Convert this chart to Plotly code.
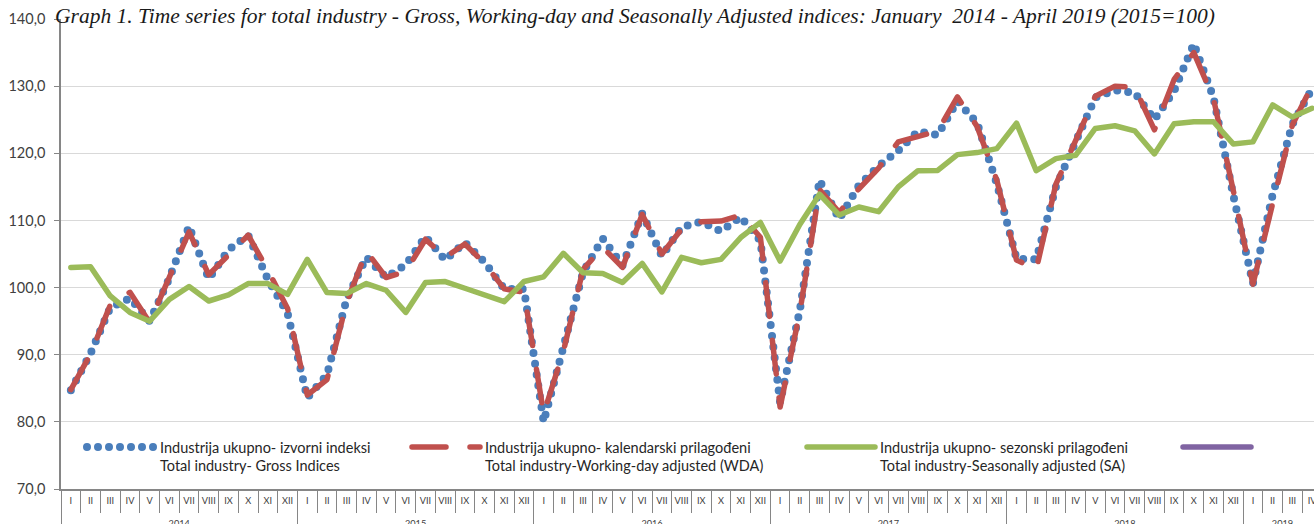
import plotly.graph_objects as go

# ---------------- data ----------------
month_labels = ["I", "II", "III", "IV", "V", "VI", "VII", "VIII", "IX", "X", "XI", "XII"]
years = ["2014", "2015", "2016", "2017", "2018", "2019"]
months_per_year = [12, 12, 12, 12, 12, 4]

gross = [
    84.7, 90.2, 97.0, 98.4, 95.0, 101.4, 109.1, 101.3, 105.6, 107.8, 101.2, 96.2,
    83.6, 87.0, 98.3, 104.5, 101.5, 103.4, 107.6, 104.1, 106.7, 103.8, 99.8, 99.8,
    80.0, 90.8, 102.3, 107.3, 103.3, 111.0, 104.7, 109.0, 109.8, 108.4, 110.5, 107.0,
    82.9, 96.6, 116.0, 110.2, 115.2, 118.1, 120.4, 123.3, 122.7, 127.8, 124.5, 115.5,
    104.3, 104.2, 115.0, 121.7, 128.3, 129.4, 129.0, 125.0, 129.3, 136.3, 128.3, 113.8,
    100.6, 113.8, 124.3, 129.6,
]
wda = [
    84.8, 90.1, 97.4, 99.3, 94.8, 101.5, 108.3, 101.9, 104.8, 107.8, 102.6, 96.9,
    84.0, 86.3, 97.8, 105.4, 101.5, 102.4, 107.2, 104.5, 106.5, 103.6, 99.8, 99.3,
    81.2, 90.5, 102.7, 106.0, 103.0, 110.9, 105.0, 108.7, 109.8, 109.9, 110.8, 107.5,
    82.2, 96.3, 114.6, 111.2, 114.7, 117.8, 121.7, 122.6, 123.3, 128.4, 124.0, 116.0,
    104.1, 102.7, 115.4, 121.9, 128.5, 130.0, 129.8, 123.5, 131.0, 135.0, 128.1, 114.5,
    100.5, 112.5, 124.2, 130.1,
]
sa = [
    103.0, 103.1, 98.75, 96.3, 95.0, 98.25, 100.15, 98.0, 98.9, 100.6, 100.6, 99.0,
    104.2, 99.25, 99.1, 100.6, 99.6, 96.3, 100.75, 100.9, 99.9, 98.9, 97.9, 100.9,
    101.6, 105.1, 102.2, 102.1, 100.75, 103.6, 99.35, 104.5, 103.7, 104.2, 107.45, 109.7,
    103.95, 109.4, 113.9, 110.8, 112.0, 111.3, 115.0, 117.4, 117.45, 119.8, 120.1, 120.7,
    124.5, 117.4, 119.2, 119.7, 123.7, 124.1, 123.35, 119.9, 124.4, 124.7, 124.7, 121.4,
    121.7, 127.2, 125.4, 126.7,
]

names = [
    "Industrija ukupno- izvorni indeksi<br>Total industry- Gross Indices",
    "Industrija ukupno- kalendarski prilagođeni<br>Total industry-Working-day adjusted (WDA)",
    "Industrija ukupno- sezonski prilagođeni<br>Total industry-Seasonally adjusted (SA)",
    "",
]
title_text = ("Graph 1. Time series for total industry - Gross, Working-day and Seasonally "
              "Adjusted indices: January  2014 - April 2019 (2015=100)")

# ---------------- build categories ----------------
# (year labels get a leading line break so they sit lower, as in the original)
x_year, x_month = [], []
for yr, n in zip(years, months_per_year):
    for m in month_labels[:n]:
        x_year.append("<br>" + yr)
        x_month.append(m)
x = [x_year, x_month]

BLUE, RED, GREEN, PURPLE = "#4A7EBB", "#C0504D", "#9BBB59", "#8064A2"
AXIS = "#868686"
TXT = "#404040"
FONT = "Lato"

fig = go.Figure()
fig.add_trace(go.Scatter(x=x, y=gross, mode="lines", name=names[0], legend="legend",
                         line=dict(color=BLUE, width=8, dash="0px,11px")))
fig.add_trace(go.Scatter(x=x, y=wda, mode="lines", name=names[1], legend="legend2",
                         line=dict(color=RED, width=5.5, dash="34px,24px")))
fig.add_trace(go.Scatter(x=x, y=sa, mode="lines", name=names[2], legend="legend3",
                         line=dict(color=GREEN, width=5.5)))
fig.add_trace(go.Scatter(x=x, y=[None] * len(x_month), mode="lines", name=names[3],
                         legend="legend4", line=dict(color=PURPLE, width=5.5)))

W, H = 1314, 524
L, R, T, B = 61, 0, 19, 35
PW, PH = W - L - R, H - T - B


def px_x(v):
    return (v - L) / PW


def px_y(v):
    return (H - B - v) / PH


leg_common = dict(xref="paper", yref="paper", xanchor="left", yanchor="top",
                  bgcolor="rgba(0,0,0,0)", font=dict(family=FONT, size=14.5, color="#262626"),
                  itemwidth=68, valign="top", borderwidth=0)
leg_y = px_y(431)

fig.update_layout(
    width=W, height=H,
    margin=dict(l=L, r=R, t=T, b=B, autoexpand=False),
    paper_bgcolor="white", plot_bgcolor="white",
    separators=", ",
    showlegend=True,
    hovermode=False,
    title=dict(text="<i>" + title_text + "</i>", x=55 / W, xanchor="left",
               xref="container", yref="container", y=1 - 15 / H, yanchor="middle",
               font=dict(family="Liberation Serif", size=21.5, color="#1a1a1a")),
    legend=dict(x=px_x(82), y=leg_y, **leg_common),
    legend2=dict(x=px_x(407), y=leg_y, **leg_common),
    legend3=dict(x=px_x(802), y=leg_y, **leg_common),
    legend4=dict(x=px_x(1178), y=leg_y, **leg_common),
    yaxis=dict(range=[70, 140], dtick=10, tickformat=".1f", showgrid=True,
               gridcolor="#D9D9D9", gridwidth=1, zeroline=False,
               showline=True, linecolor=AXIS, linewidth=1.5,
               ticks="outside", ticklen=5, tickcolor=AXIS, ticklabelstandoff=6,
               tickfont=dict(family=FONT, size=14.5, color=TXT)),
    xaxis=dict(type="multicategory", range=[-0.5, 63.1], tickson="boundaries",
               ticks="outside", ticklen=22, tickcolor=AXIS, showgrid=False,
               showline=True, linecolor=AXIS, linewidth=1.5,
               showdividers=True, dividercolor=AXIS, dividerwidth=1,
               ticklabelstandoff=2, tickangle=0,
               tickfont=dict(family=FONT, size=9.2, color=TXT)),
)

post = ("var s=document.createElement('style');"
        "s.textContent='body{margin:0 !important;overflow:hidden;}"
        ".js-line{stroke-linecap:round !important;stroke-linejoin:round !important;}';"
        "document.head.appendChild(s);")
fig.write_html("out.html", post_script=post, config={"displayModeBar": False})
